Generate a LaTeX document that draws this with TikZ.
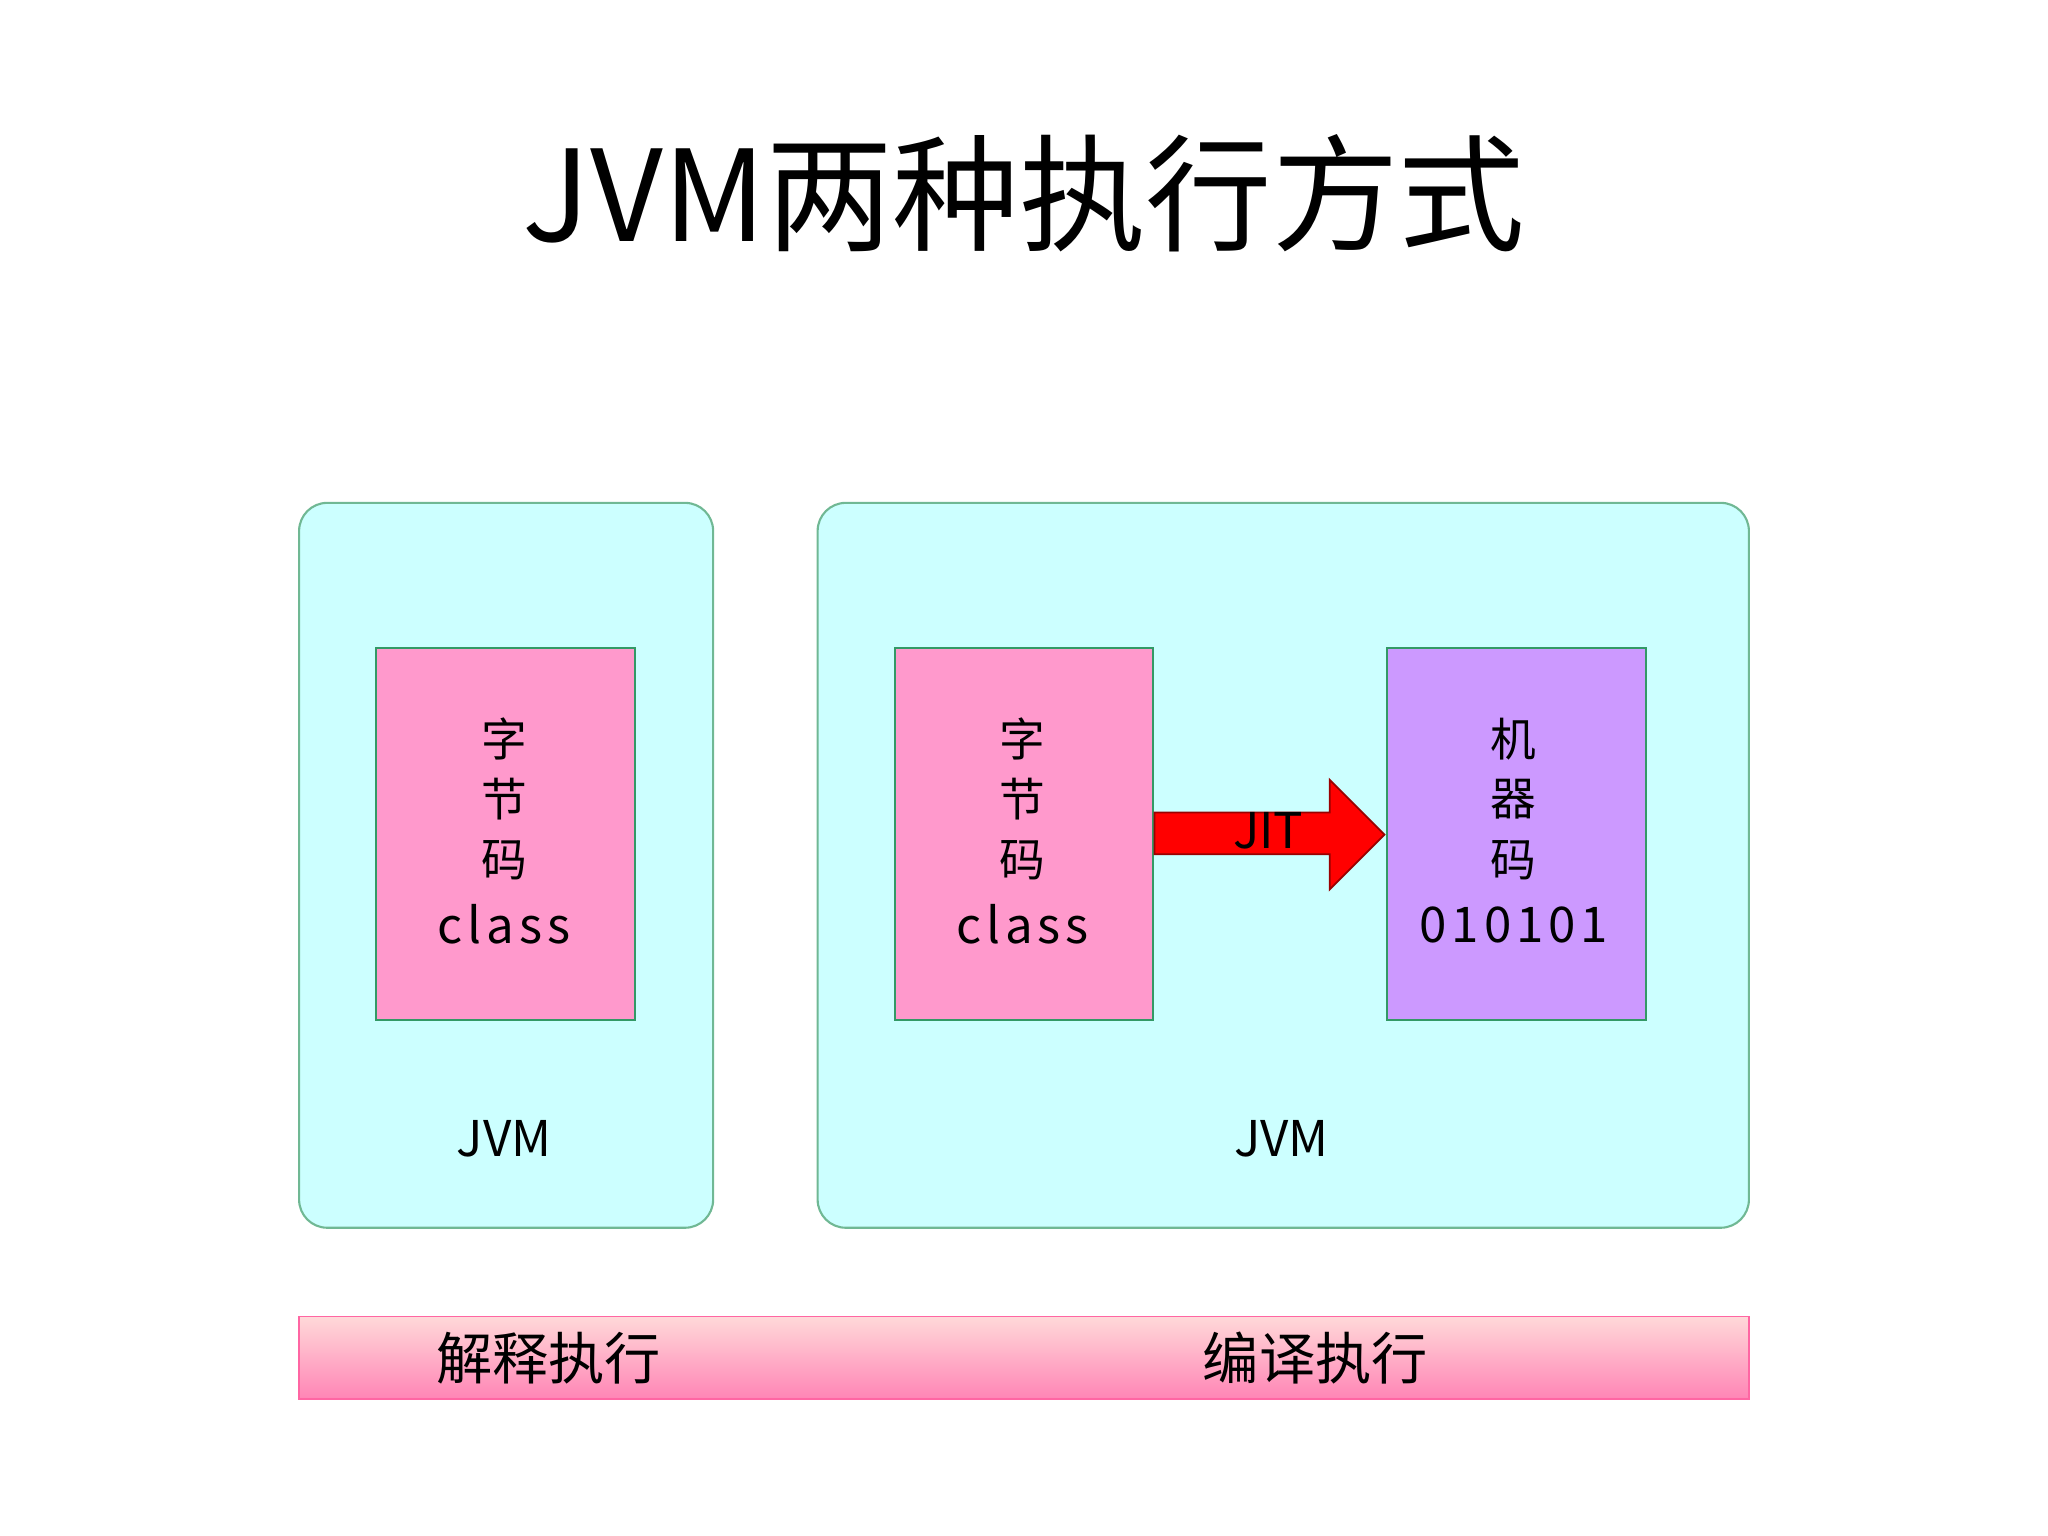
\documentclass[tikz,border=0pt]{standalone}
\usepackage{fontspec}
\newfontfamily\cjk{Noto Sans CJK SC}
\usetikzlibrary{shadings}
\definecolor{cyanbg}{HTML}{CCFFFF}
\definecolor{pinkbox}{HTML}{FF99CC}
\definecolor{purplebox}{HTML}{CC99FF}
\definecolor{edgegreen}{HTML}{339966}
\definecolor{barpink}{HTML}{FF66A3}
\begin{document}
\begin{tikzpicture}[x=0.013061cm,y=-0.013061cm,
  jvmbox/.style={fill=cyanbg,draw=edgegreen!70,rounded corners=8pt,line width=0.6pt},
  codebox/.style={draw=edgegreen,line width=0.6pt},
  lbl/.style={font=\cjk\fontsize{13pt}{16pt}\selectfont,align=center,text=black}]
\useasboundingbox (0,0) rectangle (1568,1176);
\node[font=\cjk\fontsize{36pt}{40pt}\selectfont] (title) at (784,148) {JVM两种执行方式};
\draw[jvmbox] (229,385) rectangle (546,940);
\draw[jvmbox] (626,385) rectangle (1339,940);
\draw[codebox,fill=pinkbox] (288,496) rectangle (486,781);
\draw[codebox,fill=pinkbox] (685,496) rectangle (883,781);
\draw[codebox,fill=purplebox] (1062,496) rectangle (1260,781);
\foreach \cx/\a/\b/\c/\d in {386/字/节/码/class,783/字/节/码/class,1159/机/器/码/010101}{
  \node[lbl] at (\cx,566) {\a};
  \node[lbl] at (\cx,612) {\b};
  \node[lbl] at (\cx,659) {\c};
  \node[lbl,font=\cjk\fontsize{14pt}{16pt}\selectfont] at (\cx,708) {\ifx\d\relax\else\addfontfeature{LetterSpace=10}\d\fi};
}
\node[lbl,font=\cjk\fontsize{14pt}{16pt}\selectfont] (jvm1) at (386,872) {JVM};
\node[lbl,font=\cjk\fontsize{14pt}{16pt}\selectfont] (jvm2) at (981,872) {JVM};
\fill[red,draw=red!60!black,line width=0.5pt] (884,622) -- (1018,622) -- (1018,597) -- (1060,639) -- (1018,681) -- (1018,654) -- (884,654) -- cycle;
\node[lbl,font=\cjk\fontsize{14pt}{16pt}\selectfont] (jit) at (971,636) {JIT};
\shade[top color=pink!60!white,bottom color=barpink!80,draw=barpink] (229,1008) rectangle (1339,1071);
\node[lbl,font=\cjk\fontsize{16pt}{18pt}\selectfont] (interp) at (420,1040) {解释执行};
\node[lbl,font=\cjk\fontsize{16pt}{18pt}\selectfont] (comp) at (1007,1040) {编译执行};
\end{tikzpicture}
\end{document}
